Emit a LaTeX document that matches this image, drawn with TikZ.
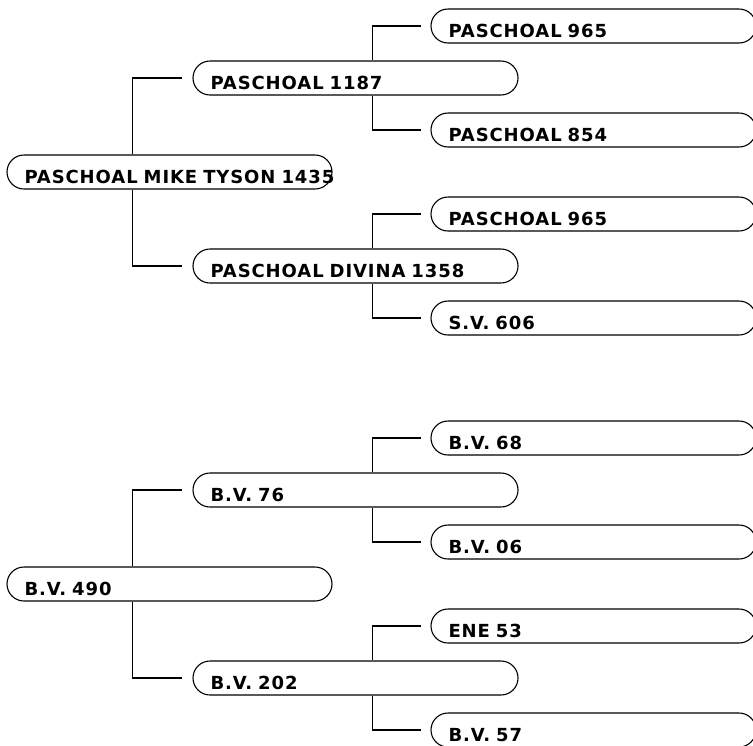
\documentclass[tikz,border=0pt]{standalone}
\usepackage{fontspec}
\newfontfamily\boxfont[LetterSpace=5]{DejaVu Sans}
\tikzset{
  pedbox/.style={draw, line width=1.1pt, rounded corners=17pt, minimum width=325pt,
    minimum height=34pt, inner xsep=17.5pt, inner ysep=2pt, text width=290pt,
    align=left, text height=26.5pt, text depth=3.5pt,
    font=\boxfont\bfseries\fontsize{18}{20}\selectfont},
  pedline/.style={line width=1.1pt}
}
\begin{document}
\begin{tikzpicture}[x=1pt, y=-1pt]
    \useasboundingbox (0,0) rectangle (753,745);
    \begin{scope}[every node/.style={pedbox}]
      \node (a0) at (169.5,172) {\mbox{PASCHOAL MIKE TYSON 1435}};
      \node (a1) at (355.5,78) {PASCHOAL 1187};
      \node (a2) at (355.5,266) {PASCHOAL DIVINA 1358};
      \node (a11) at (593.5,26) {PASCHOAL 965};
      \node (a12) at (593.5,130) {PASCHOAL 854};
      \node (a21) at (593.5,214) {PASCHOAL 965};
      \node (a22) at (593.5,318) {S.V. 606};

      \node (b0) at (169.5,584) {B.V. 490};
      \node (b1) at (355.5,490) {B.V. 76};
      \node (b2) at (355.5,678) {B.V. 202};
      \node (b11) at (593.5,438) {B.V. 68};
      \node (b12) at (593.5,542) {B.V. 06};
      \node (b21) at (593.5,626) {ENE 53};
      \node (b22) at (593.5,730) {B.V. 57};
    \end{scope}

    \draw [pedline]([xshift=126pt]a0.north west) |- ([xshift=-10pt]a1.west);
    \draw [pedline]([xshift=126pt]a0.south west) |- ([xshift=-10pt]a2.west);
    \draw [pedline]([xshift=180pt]a1.north west) |- ([xshift=-9pt]a11.west);
    \draw [pedline]([xshift=180pt]a1.south west) |- ([xshift=-9pt]a12.west);
    \draw [pedline]([xshift=180pt]a2.north west) |- ([xshift=-9pt]a21.west);
    \draw [pedline]([xshift=180pt]a2.south west) |- ([xshift=-9pt]a22.west);

    \draw [pedline]([xshift=126pt]b0.north west) |- ([xshift=-10pt]b1.west);
    \draw [pedline]([xshift=126pt]b0.south west) |- ([xshift=-10pt]b2.west);
    \draw [pedline]([xshift=180pt]b1.north west) |- ([xshift=-9pt]b11.west);
    \draw [pedline]([xshift=180pt]b1.south west) |- ([xshift=-9pt]b12.west);
    \draw [pedline]([xshift=180pt]b2.north west) |- ([xshift=-9pt]b21.west);
    \draw [pedline]([xshift=180pt]b2.south west) |- ([xshift=-9pt]b22.west);
\end{tikzpicture}
\end{document}
